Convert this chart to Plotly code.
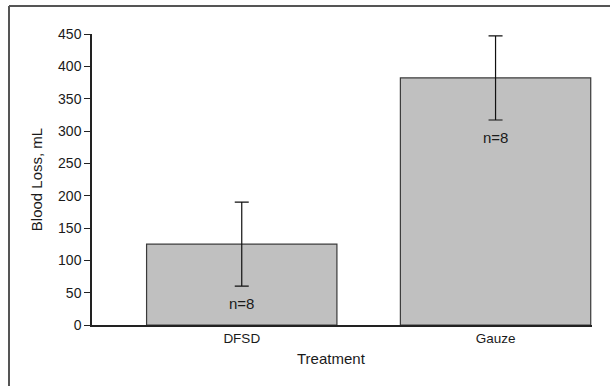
import plotly.graph_objects as go

categories = ["DFSD", "Gauze"]
blood_loss = [125, 382]
error = [65, 65]
n_labels = ["n=8", "n=8"]
y_ticks = [0, 50, 100, 150, 200, 250, 300, 350, 400, 450]

FONT = "Liberation Sans, Arial, Helvetica, sans-serif"
INK = "#1a1a1a"

x_pos = list(range(len(categories)))

fig = go.Figure()
fig.add_trace(go.Bar(
    x=x_pos, y=blood_loss, width=0.75,
    marker=dict(color="#c0c0c0", line=dict(color="#3a3a3a", width=1.2)),
    error_y=dict(type="data", array=error, visible=True, color="#111111",
                 thickness=1.2, width=7),
    showlegend=False, hoverinfo="skip",
))

for xi, yv, ev, lab in zip(x_pos, blood_loss, error, n_labels):
    fig.add_annotation(x=xi, y=yv - ev, text=lab, showarrow=False,
                       yanchor="top", yshift=-7,
                       font=dict(family=FONT, size=15, color=INK))

fig.add_annotation(xref="paper", yref="paper", x=0.478, y=-0.078,
                   text="Treatment", showarrow=False, yanchor="top",
                   font=dict(family=FONT, size=15, color=INK))

# outer frame (left and top edges visible in the reference)
fig.add_shape(type="line", xref="paper", yref="paper",
              x0=-0.166, x1=1.2, y0=1.0961, y1=1.0961,
              line=dict(color="#555555", width=2))
fig.add_shape(type="line", xref="paper", yref="paper",
              x0=-0.166, x1=-0.166, y0=-0.5, y1=1.0961,
              line=dict(color="#555555", width=2))

fig.update_layout(
    width=610, height=386,
    margin=dict(l=92, r=18, t=34, b=61),
    plot_bgcolor="white", paper_bgcolor="white",
    font=dict(family=FONT, size=14, color=INK),
    xaxis=dict(range=[-0.59, 1.38], tickvals=x_pos, ticktext=categories,
               showline=True, linecolor="#222222", linewidth=1.5,
               ticks="", showgrid=False, zeroline=False,
               tickfont=dict(family=FONT, size=13.5, color=INK)),
    yaxis=dict(range=[0, 450], tickvals=y_ticks,
               showline=True, linecolor="#222222", linewidth=1.5,
               ticks="outside", ticklen=6, tickcolor="#222222", tickwidth=1.2,
               showgrid=False, zeroline=False,
               title=dict(text="Blood Loss, mL", standoff=12,
                          font=dict(family=FONT, size=15, color=INK)),
               tickfont=dict(family=FONT, size=14, color=INK)),
)

fig.write_html("out.html", config={"displayModeBar": False},
               post_script="document.body.style.margin='0';")
